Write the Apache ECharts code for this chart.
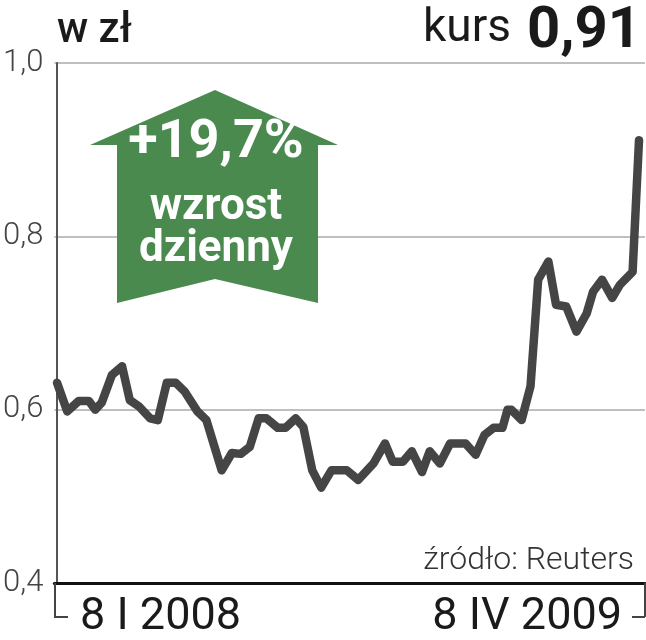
<!DOCTYPE html>
<html>
<head>
<meta charset="utf-8">
<script src="https://cdn.jsdelivr.net/npm/echarts@6/dist/echarts.min.js"></script>
<style>
html,body{margin:0;padding:0;background:#fff;}
#chart{width:646px;height:640px;}
</style>
</head>
<body>
<div id="chart"></div>
<script>
// ---- data ----
const dates = [
 '2008-01-08','2008-01-16','2008-01-25','2008-02-02','2008-02-07','2008-02-12','2008-02-20','2008-02-28',
 '2008-03-05','2008-03-12','2008-03-21','2008-03-27','2008-04-03','2008-04-10','2008-04-17','2008-04-27',
 '2008-05-04','2008-05-16','2008-05-24','2008-05-31','2008-06-07','2008-06-14','2008-06-20','2008-06-29',
 '2008-07-05','2008-07-13','2008-07-19','2008-07-26','2008-08-02','2008-08-10','2008-08-22','2008-08-31',
 '2008-09-12','2008-09-21','2008-09-27','2008-10-05','2008-10-12','2008-10-20','2008-10-26','2008-11-03',
 '2008-11-11','2008-11-23','2008-12-01','2008-12-08','2008-12-15','2008-12-22','2008-12-26','2008-12-29',
 '2009-01-06','2009-01-13','2009-01-19','2009-01-27','2009-02-02','2009-02-10','2009-02-18','2009-02-26',
 '2009-03-03','2009-03-10','2009-03-18','2009-03-24','2009-04-03','2009-04-08'
];
const prices = [
 0.631,0.598,0.610,0.610,0.600,0.608,0.640,0.650,
 0.611,0.604,0.590,0.588,0.631,0.631,0.621,0.598,
 0.588,0.530,0.550,0.549,0.557,0.590,0.590,0.579,
 0.579,0.590,0.580,0.530,0.510,0.530,0.530,0.519,
 0.538,0.561,0.540,0.540,0.552,0.528,0.552,0.538,
 0.561,0.561,0.548,0.571,0.579,0.579,0.600,0.600,
 0.588,0.627,0.750,0.771,0.721,0.719,0.690,0.711,
 0.736,0.750,0.729,0.744,0.759,0.911
];
const yTicks = [0.4, 0.6, 0.8, 1.0];
const xLabels = ['8 I 2008', '8 IV 2009'];
const unitLabel = 'w zł';
const rateLabel = 'kurs';
const rateValue = '0,91';
const badgeLines = ['+19,7%', 'wzrost', 'dzienny'];
const sourceLabel = 'źródło: Reuters';

// ---- build ----
const DAY = 864e5;
const ts = s => Date.UTC(+s.slice(0, 4), +s.slice(5, 7) - 1, +s.slice(8, 10));
const t0 = ts(dates[0]);
const dayOf = s => Math.round((ts(s) - t0) / DAY);
const dEnd = dayOf(dates[dates.length - 1]);
const xMin = -2.1;
const xMax = dEnd + 4.7;
const seriesData = dates.map((d, i) => [dayOf(d), prices[i]]);

const chart = echarts.init(document.getElementById('chart'), null, {renderer: 'canvas'});
const green = '#4b8a4f';
const labelFont = {fontFamily: 'Roboto', fontWeight: 400, fontSize: 45, color: '#1a1a1a'};
const option = {
  animation: false,
  backgroundColor: '#ffffff',
  grid: {left: 54, right: 1, top: 63, bottom: 57, containLabel: false},
  xAxis: [{
    type: 'value', min: xMin, max: xMax,
    axisLine: {show: true, lineStyle: {color: '#111', width: 3}},
    axisTick: {show: true, customValues: [xMin, xMax], length: 34, lineStyle: {color: '#444', width: 2}},
    splitLine: {show: false},
    axisLabel: Object.assign({
      customValues: [0], align: 'left', margin: 12,
      padding: [0, 0, 0, 23],
      formatter: () => xLabels[0]
    }, labelFont)
  }, {
    type: 'value', min: xMin, max: xMax, position: 'bottom',
    axisLine: {show: false}, axisTick: {show: false}, splitLine: {show: false},
    axisLabel: Object.assign({
      customValues: [dEnd], align: 'right', margin: 12,
      padding: [0, 17, 0, 0],
      formatter: () => xLabels[1]
    }, labelFont)
  }],
  yAxis: {
    type: 'value', min: yTicks[0], max: yTicks[yTicks.length - 1], interval: 0.2,
    axisLine: {show: true, lineStyle: {color: '#555', width: 2}},
    axisTick: {show: false},
    splitLine: {show: true, lineStyle: {color: '#aaaaaa', width: 1.5}},
    axisLabel: {
      margin: 11, fontFamily: 'Roboto', fontWeight: 300, fontSize: 31, color: '#444',
      formatter: v => v.toFixed(1).replace('.', ',')
    }
  },
  series: [{
    type: 'line', xAxisIndex: 0, data: seriesData, showSymbol: false,
    lineStyle: {color: '#454545', width: 8.5, join: 'round', cap: 'round'},
    z: 5
  }],
  graphic: [
    {type: 'text', left: 57, top: 10, z: 10, style: {text: unitLabel, font: '500 42px Roboto', fill: '#1a1a1a'}},
    {type: 'text', z: 10, x: 511, y: 6, style: {text: rateLabel, font: '46px Roboto', fill: '#1a1a1a', align: 'right'}},
    {type: 'text', z: 10, x: 641, y: 3, style: {text: rateValue, font: 'bold 58px Roboto', fill: '#1a1a1a', align: 'right'}},
    {type: 'polygon', z: 10, shape: {points: [[215,90],[338,145],[318,145],[318,303],[215,279],[117,303],[117,145],[90,145]]}, style: {fill: green}},
    {type: 'text', z: 11, x: 216, y: 143, style: {text: badgeLines[0], font: 'bold 54px Roboto', fill: '#fff', align: 'center', verticalAlign: 'middle'}},
    {type: 'text', z: 11, x: 216, y: 208, style: {text: badgeLines[1], font: 'bold 44px Roboto', fill: '#fff', align: 'center', verticalAlign: 'middle'}},
    {type: 'text', z: 11, x: 216, y: 250, style: {text: badgeLines[2], font: 'bold 44px Roboto', fill: '#fff', align: 'center', verticalAlign: 'middle'}},
    {type: 'text', z: 10, right: 12, top: 545, style: {text: sourceLabel, font: '300 32px Roboto', fill: '#333'}},
    {type: 'line', z: 10, shape: {x1: 54, y1: 617, x2: 68, y2: 617}, style: {stroke: '#444', lineWidth: 2}},
    {type: 'line', z: 10, shape: {x1: 632, y1: 617, x2: 645, y2: 617}, style: {stroke: '#444', lineWidth: 2}}
  ]
};
chart.setOption(option);
</script>
</body>
</html>
